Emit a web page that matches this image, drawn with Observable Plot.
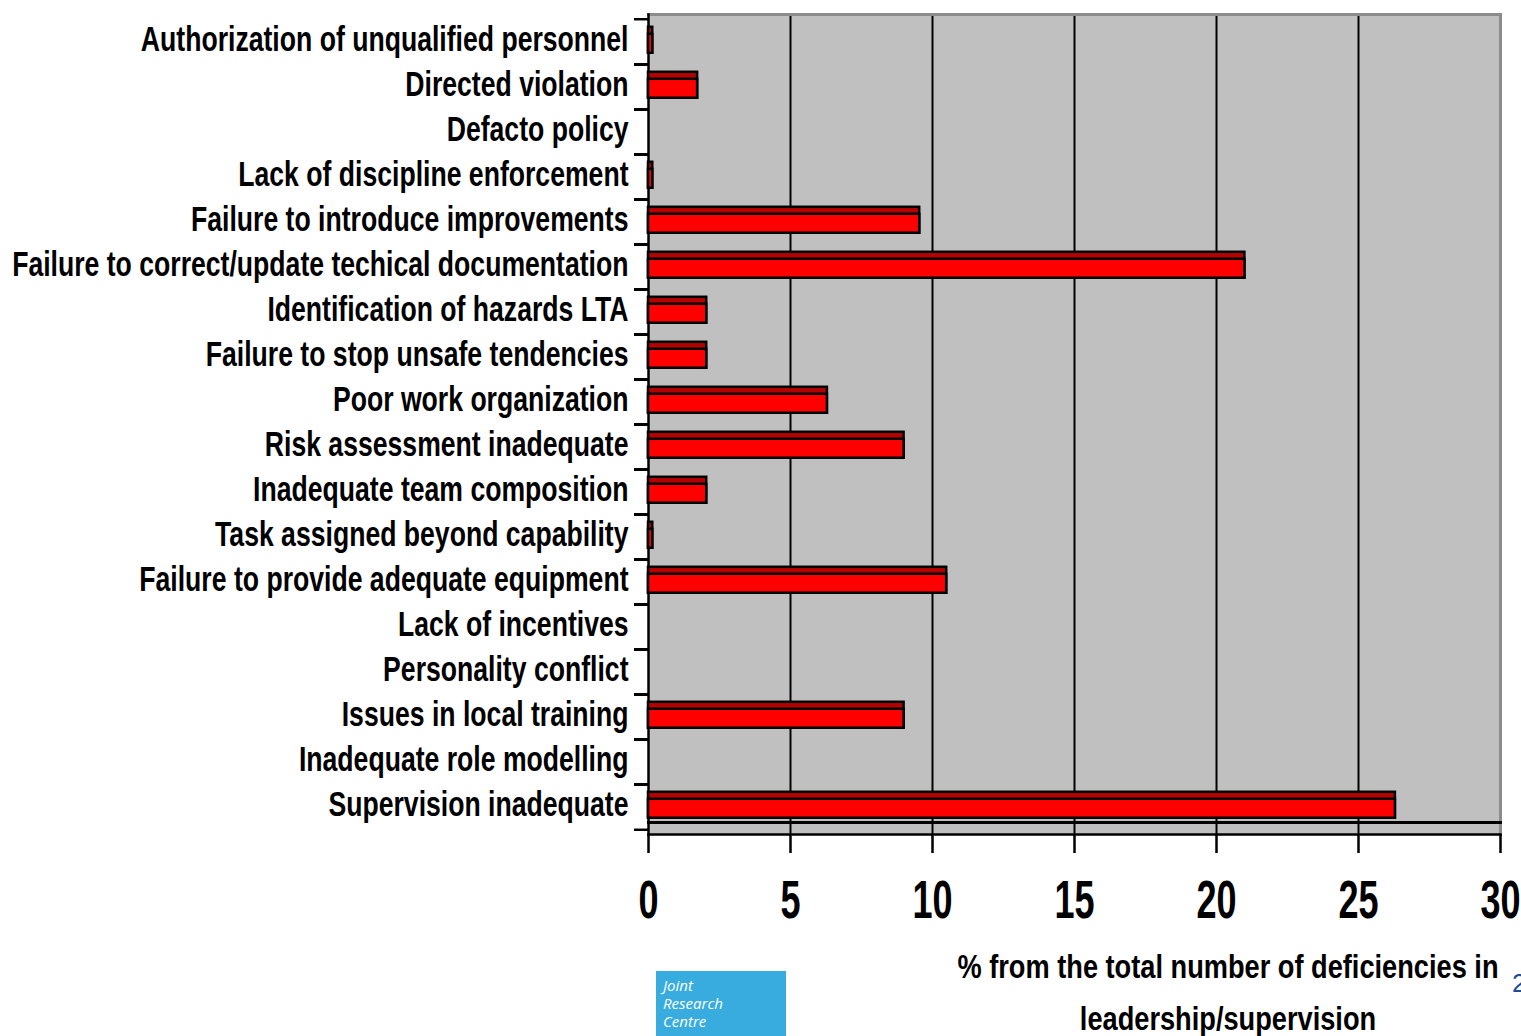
<!DOCTYPE html>
<html>
<head>
<meta charset="utf-8">
<script src="https://cdn.jsdelivr.net/npm/d3@7"></script>
<script src="https://cdn.jsdelivr.net/npm/@observablehq/plot@0.6"></script>
<style>
  html, body { margin: 0; padding: 0; background: #fff; overflow: hidden; }
  #wrap { position: relative; width: 1521px; height: 1036px; font-family: "Liberation Sans", Arial, sans-serif; }
  #chart svg { display: block; }
  #xtitle { position: absolute; left: 840px; width: 776px; top: 940px; text-align: center; font-weight: bold; font-size: 34px; line-height: 52px; color: #000; white-space: nowrap; transform: scaleX(0.8); transform-origin: 388px 0; }
  #logo { position: absolute; left: 656px; top: 971px; width: 130px; height: 65px; background: #38acde; color: #fff; font-family: "Open Sans", sans-serif; font-style: italic; font-size: 15px; line-height: 18px; padding: 5px 0 0 7px; box-sizing: border-box; }
  #page { position: absolute; left: 1512px; top: 968px; font-family: "Liberation Sans", sans-serif; font-size: 26px; color: #1f4e9a; }
</style>
</head>
<body>
<div id="wrap">
  <div id="chart"></div>
  <div id="xtitle">% from the total number of deficiencies in<br>leadership/supervision</div>
  <div id="logo">Joint<br>Research<br>Centre</div>
  <div id="page">2</div>
</div>
<script>
// Deficiency categories, top to bottom
const categories = [
  "Authorization of unqualified personnel",
  "Directed violation",
  "Defacto policy",
  "Lack of discipline enforcement",
  "Failure to introduce improvements",
  "Failure to correct/update techical documentation",
  "Identification of hazards LTA",
  "Failure to stop unsafe tendencies",
  "Poor work organization",
  "Risk assessment inadequate",
  "Inadequate team composition",
  "Task assigned beyond capability",
  "Failure to provide adequate equipment",
  "Lack of incentives",
  "Personality conflict",
  "Issues in local training",
  "Inadequate role modelling",
  "Supervision inadequate"
];

// Share (%) of all leadership/supervision deficiencies
const shares = [
  0.15, 1.73, 0, 0.15, 9.55, 21.0, 2.05, 2.05, 6.3,
  9.0, 2.05, 0.15, 10.5, 0, 0, 9.0, 0, 26.3
];

const xTicks = [0, 5, 10, 15, 20, 25, 30];
const gridValues = [5, 10, 15, 20, 25];

const rows = categories.map((category, i) => ({category, share: shares[i]}));
const bars = rows.filter(d => d.share > 0);

const width = 1521, height = 930;
const marginTop = 14, marginBottom = 96, marginLeft = 648, marginRight = 21;
const band = (height - marginTop - marginBottom) / categories.length;
const half = band / 2;

const chart = Plot.plot({
  width, height, marginTop, marginBottom, marginLeft, marginRight,
  style: {fontFamily: '"Liberation Sans", Arial, sans-serif', color: "#000", background: "#fff", overflow: "visible"},
  x: {domain: [0, 30], ticks: xTicks},
  y: {domain: categories, padding: 0},
  marks: [
    Plot.frame({fill: "#c0c0c0", stroke: null}),
    Plot.gridX(gridValues, {stroke: "#000", strokeOpacity: 1, strokeWidth: 2}),
    // plot border: grey top/right, floor line, black axes
    Plot.frame({anchor: "top", stroke: "#8c8c8c", strokeWidth: 3}),
    Plot.frame({anchor: "right", stroke: "#8c8c8c", strokeWidth: 3}),
    Plot.frame({anchor: "bottom", stroke: "#000", strokeWidth: 3, dy: -12}),
    Plot.frame({anchor: "bottom", stroke: "#000", strokeWidth: 2.5}),
    Plot.frame({anchor: "left", stroke: "#000", strokeWidth: 2.5}),
    // bars: darker top face plus red front face
    Plot.barX(bars, {x: "share", y: "category", fill: "#b40000", stroke: "#000", strokeWidth: 2.5,
      insetTop: half - 15, insetBottom: half - 11.5}),
    Plot.barX(bars, {x: "share", y: "category", fill: "#ff0000", stroke: "#000", strokeWidth: 2.5,
      insetTop: half - 8, insetBottom: half - 11.5}),
    // category ticks sit on band boundaries
    Plot.axisY({tickSize: 14, tickFormat: () => "", dy: -half, strokeWidth: 2.5, label: null}),
    Plot.axisY({tickSize: 14, tickFormat: () => "", dy: half, strokeWidth: 2.5, label: null}),
    Plot.axisY({tickSize: 0, tickPadding: 20, fontSize: 35, fontWeight: "bold", dy: -2, label: null}),
    Plot.axisX({ticks: xTicks, tickSize: 19, tickPadding: 27, fontSize: 53, fontWeight: "bold", strokeWidth: 2.5, label: null})
  ]
});

document.getElementById("chart").appendChild(chart);

// condensed lettering: squeeze tick labels horizontally
function condense(selector, factor) {
  chart.querySelectorAll(selector).forEach(t => {
    const len = t.getComputedTextLength();
    if (len > 0) {
      t.setAttribute("textLength", len * factor);
      t.setAttribute("lengthAdjust", "spacingAndGlyphs");
    }
  });
}
condense('[aria-label="y-axis tick label"] text', 0.76);
condense('[aria-label="x-axis tick label"] text', 0.68);
</script>
</body>
</html>
